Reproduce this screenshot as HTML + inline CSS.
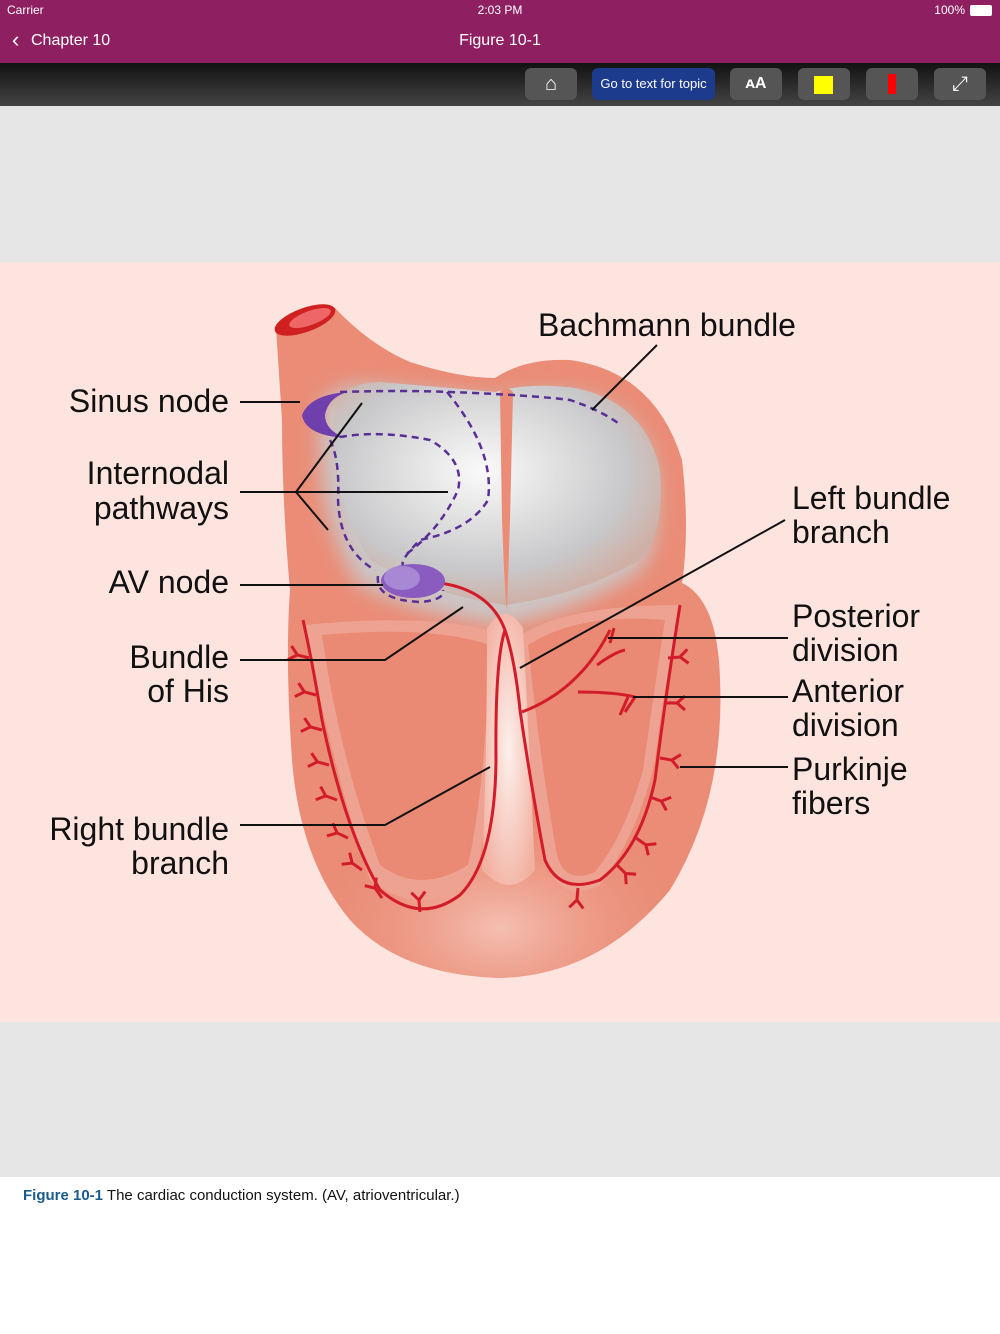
<!DOCTYPE html>
<html><head><meta charset="utf-8"><style>
body{margin:0;width:1000px;height:1334px;position:relative;font-family:"Liberation Sans",sans-serif;background:#fff;overflow:hidden}
.abs{position:absolute}
</style></head><body>
<div class="abs" style="left:0;top:0;width:1000px;height:63px;background:#8e2062;color:#fff">
<div class="abs" style="left:7px;top:3px;font-size:12px">Carrier</div>
<div class="abs" style="left:0;width:1000px;top:3px;text-align:center;font-size:12px">2:03 PM</div>
<div class="abs" style="right:35px;top:3px;font-size:12px">100%</div>
<div class="abs" style="right:8px;top:5px;width:20px;height:9px;border:1px solid #fff;border-radius:2px;background:#fff"></div>
<div class="abs" style="left:12px;top:29px;font-size:22px;line-height:22px">‹</div>
<div class="abs" style="left:31px;top:32px;font-size:16px">Chapter 10</div>
<div class="abs" style="left:0;width:1000px;top:32px;text-align:center;font-size:16px">Figure 10-1</div>
</div>
<div class="abs" style="left:0;top:63px;width:1000px;height:43px;background:linear-gradient(#111,#444)"></div>
<div class="abs" style="left:525px;top:68px;width:52px;height:32px;background:#555;border-radius:6px;color:#fff;text-align:center;font-size:20px;line-height:32px">⌂</div>
<div class="abs" style="left:592px;top:68px;width:123px;height:32px;background:#1d3b8c;border-radius:6px;color:#fff;text-align:center;font-size:13px;line-height:32px">Go to text for topic</div>
<div class="abs" style="left:730px;top:68px;width:52px;height:32px;background:#555;border-radius:6px;color:#fff;text-align:center;font-size:16px;line-height:32px;font-weight:bold">ᴀA</div>
<div class="abs" style="left:798px;top:68px;width:52px;height:32px;background:#555;border-radius:6px"><div class="abs" style="left:16px;top:8px;width:19px;height:18px;background:#ff0"></div></div>
<div class="abs" style="left:866px;top:68px;width:52px;height:32px;background:#555;border-radius:6px"><div class="abs" style="left:22px;top:6px;width:8px;height:20px;background:#f00"></div></div>
<div class="abs" style="left:934px;top:68px;width:52px;height:32px;background:#555;border-radius:6px;color:#fff;text-align:center;font-size:20px;line-height:32px">⤢</div>
<div class="abs" style="left:0;top:106px;width:1000px;height:1071px;background:#e6e6e6"></div>
<svg class="abs" style="left:0;top:262px" width="1000" height="760" viewBox="0 262 1000 760">
<defs>
<radialGradient id="g1" cx="0.45" cy="0.4" r="0.6"><stop offset="0" stop-color="#fafafa"/><stop offset="0.75" stop-color="#c8c8ca"/><stop offset="1" stop-color="#cfb0a6"/></radialGradient>
<radialGradient id="low" cx="0.5" cy="0.8" r="0.5"><stop offset="0" stop-color="#f5c0b2"/><stop offset="1" stop-color="#ea8c76" stop-opacity="0"/></radialGradient>
<radialGradient id="sep" cx="0.5" cy="0.5" r="0.6"><stop offset="0" stop-color="#fdf0ec"/><stop offset="1" stop-color="#f2b0a0"/></radialGradient>
<filter id="bl" x="-20%" y="-20%" width="140%" height="140%"><feGaussianBlur stdDeviation="10"/></filter>
<clipPath id="hc"><path d="M276,328 L335,308 Q370,345 410,362 Q460,378 495,378 Q525,358 570,360 Q655,372 682,460 Q690,530 682,583 Q718,600 720,680 Q725,800 670,890 Q600,975 500,978 Q400,975 350,920 Q300,860 292,760 Q285,660 290,590 Q282,500 282,420 Z"/></clipPath>
<g id="f"><path d="M0,0 L12,0 M12,0 L20,-7 M12,0 L20,7"/></g>
</defs>
<rect x="0" y="262" width="1000" height="760" fill="#fde4df"/>
<path d="M276,328 L335,308 Q370,345 410,362 Q460,378 495,378 Q525,358 570,360 Q655,372 682,460 Q690,530 682,583 Q718,600 720,680 Q725,800 670,890 Q600,975 500,978 Q400,975 350,920 Q300,860 292,760 Q285,660 290,590 Q282,500 282,420 Z" fill="#ea8c76"/>
<g clip-path="url(#hc)">
<ellipse cx="500" cy="850" rx="200" ry="130" fill="url(#low)"/>
<path d="M320,410 Q325,390 360,385 Q440,392 495,400 Q530,390 575,395 Q640,405 655,470 Q662,540 640,570 Q580,610 505,625 Q420,615 360,585 Q315,520 320,410 Z" fill="#cbc6c6" filter="url(#bl)"/>
<path d="M335,405 Q345,383 380,382 Q450,388 495,392 Q530,382 575,388 Q645,402 660,470 Q665,535 640,560 Q580,595 505,605 Q430,595 370,560 Q330,500 335,405 Z" fill="url(#g1)"/>
</g>
<path d="M500,392 Q506,385 513,392 L510,520 L507,610 Q505,600 502,520 Z" fill="#ea8c76"/>
<ellipse cx="305" cy="320" rx="32" ry="12" transform="rotate(-20 305 320)" fill="#d02020"/>
<ellipse cx="310" cy="318" rx="22" ry="7" transform="rotate(-20 310 318)" fill="#e66"/>
<!-- cavities -->
<path d="M305,625 Q330,760 370,880 Q420,920 475,880 Q495,790 503,635 Q440,612 305,625 Z" fill="#eea392"/>
<path d="M322,635 Q340,760 380,865 Q420,895 468,865 Q485,790 490,645 Q430,625 322,635 Z" fill="#ea8a74"/>
<path d="M680,605 Q662,700 655,760 Q640,830 600,885 Q560,905 545,860 Q525,760 513,640 Q560,605 680,605 Z" fill="#eea392"/>
<path d="M665,620 Q650,720 643,770 Q625,835 595,872 Q565,885 557,855 Q540,760 528,645 Q580,612 665,620 Z" fill="#ea8a74"/>
<path d="M487,628 Q505,600 523,628 Q530,760 535,870 Q510,900 482,870 Q487,760 487,628 Z" fill="url(#sep)"/>
<g fill="none" stroke="#d31c2a" stroke-width="3">
<path d="M440,583 Q490,590 505,630 Q515,660 520,710 Q530,780 545,860 Q560,895 600,880 Q640,850 655,780 Q665,700 680,605"/>
<path d="M505,630 Q495,660 496,760 Q495,860 460,895 Q420,925 380,890 Q345,830 322,720 Q312,660 303,620"/>
<path d="M522,712 Q580,690 610,630 M578,692 Q615,692 635,697 M597,665 Q615,652 625,650 M610,643 L614,628 M635,697 L625,712 M628,697 L620,715"/>
<g stroke-width="3">
<use href="#f" transform="translate(309,658) rotate(195)"/>
<use href="#f" transform="translate(316,695) rotate(195)"/>
<use href="#f" transform="translate(322,730) rotate(195)"/>
<use href="#f" transform="translate(329,765) rotate(195)"/>
<use href="#f" transform="translate(337,800) rotate(200)"/>
<use href="#f" transform="translate(348,838) rotate(205)"/>
<use href="#f" transform="translate(362,870) rotate(215)"/>
<use href="#f" transform="translate(382,898) rotate(235)"/>
<use href="#f" transform="translate(420,912) rotate(265)"/>
<use href="#f" transform="translate(668,658) rotate(-5)"/>
<use href="#f" transform="translate(665,703) rotate(0)"/>
<use href="#f" transform="translate(660,758) rotate(10)"/>
<use href="#f" transform="translate(650,797) rotate(20)"/>
<use href="#f" transform="translate(636,838) rotate(35)"/>
<use href="#f" transform="translate(617,865) rotate(45)"/>
<use href="#f" transform="translate(578,888) rotate(95)"/>
</g>
</g>
<path d="M347,392 Q310,395 302,415 Q305,435 345,438 Q325,430 325,415 Q328,398 347,392 Z" fill="#6f3fae"/>
<ellipse cx="413" cy="581" rx="32" ry="17" fill="#8a5cc0"/>
<ellipse cx="402" cy="578" rx="18" ry="12" fill="#a888d4"/>
<g fill="none" stroke="#5a2f95" stroke-width="2.5" stroke-dasharray="7,5">
<path d="M340,392 Q400,390 450,392 Q530,395 570,400 Q600,410 618,423"/>
<path d="M447,392 Q495,450 488,500 Q470,530 420,540 Q400,560 403,565"/>
<path d="M340,437 Q380,430 430,440 Q465,460 458,490 Q440,530 405,555"/>
<path d="M330,440 Q340,460 338,500 Q340,550 375,570"/>
<path d="M378,576 Q375,600 420,602 Q445,600 443,590"/>
</g>
<g stroke="#111" stroke-width="2" fill="none">
<path d="M240,402 L300,402 M240,492 L448,492 M296,492 L362,403 M296,492 L328,530 M240,585 L383,585 M240,660 L385,660 L463,607 M240,825 L385,825 L490,767 M657,345 L592,410 M785,520 L520,668 M788,638 L608,638 M788,697 L633,697 M788,767 L680,767"/>
</g>
<g font-family="Liberation Sans,sans-serif" font-size="32" fill="#111">
<text x="538" y="336">Bachmann bundle</text>
<text x="229" y="412" text-anchor="end">Sinus node</text>
<text x="229" y="484" text-anchor="end">Internodal</text>
<text x="229" y="519" text-anchor="end">pathways</text>
<text x="229" y="593" text-anchor="end">AV node</text>
<text x="229" y="668" text-anchor="end">Bundle</text>
<text x="229" y="702" text-anchor="end">of His</text>
<text x="229" y="840" text-anchor="end">Right bundle</text>
<text x="229" y="874" text-anchor="end">branch</text>
<text x="792" y="509">Left bundle</text>
<text x="792" y="543">branch</text>
<text x="792" y="627">Posterior</text>
<text x="792" y="661">division</text>
<text x="792" y="702">Anterior</text>
<text x="792" y="736">division</text>
<text x="792" y="780">Purkinje</text>
<text x="792" y="814">fibers</text>
</g>
</svg>
<div class="abs" style="left:0;top:1177px;width:1000px;height:157px;background:#fff"></div>
<div class="abs" style="left:23px;top:1187px;font-size:15px;color:#111"><b style="color:#1a5b8c">Figure 10-1</b> The cardiac conduction system. (AV, atrioventricular.)</div>
</body></html>
